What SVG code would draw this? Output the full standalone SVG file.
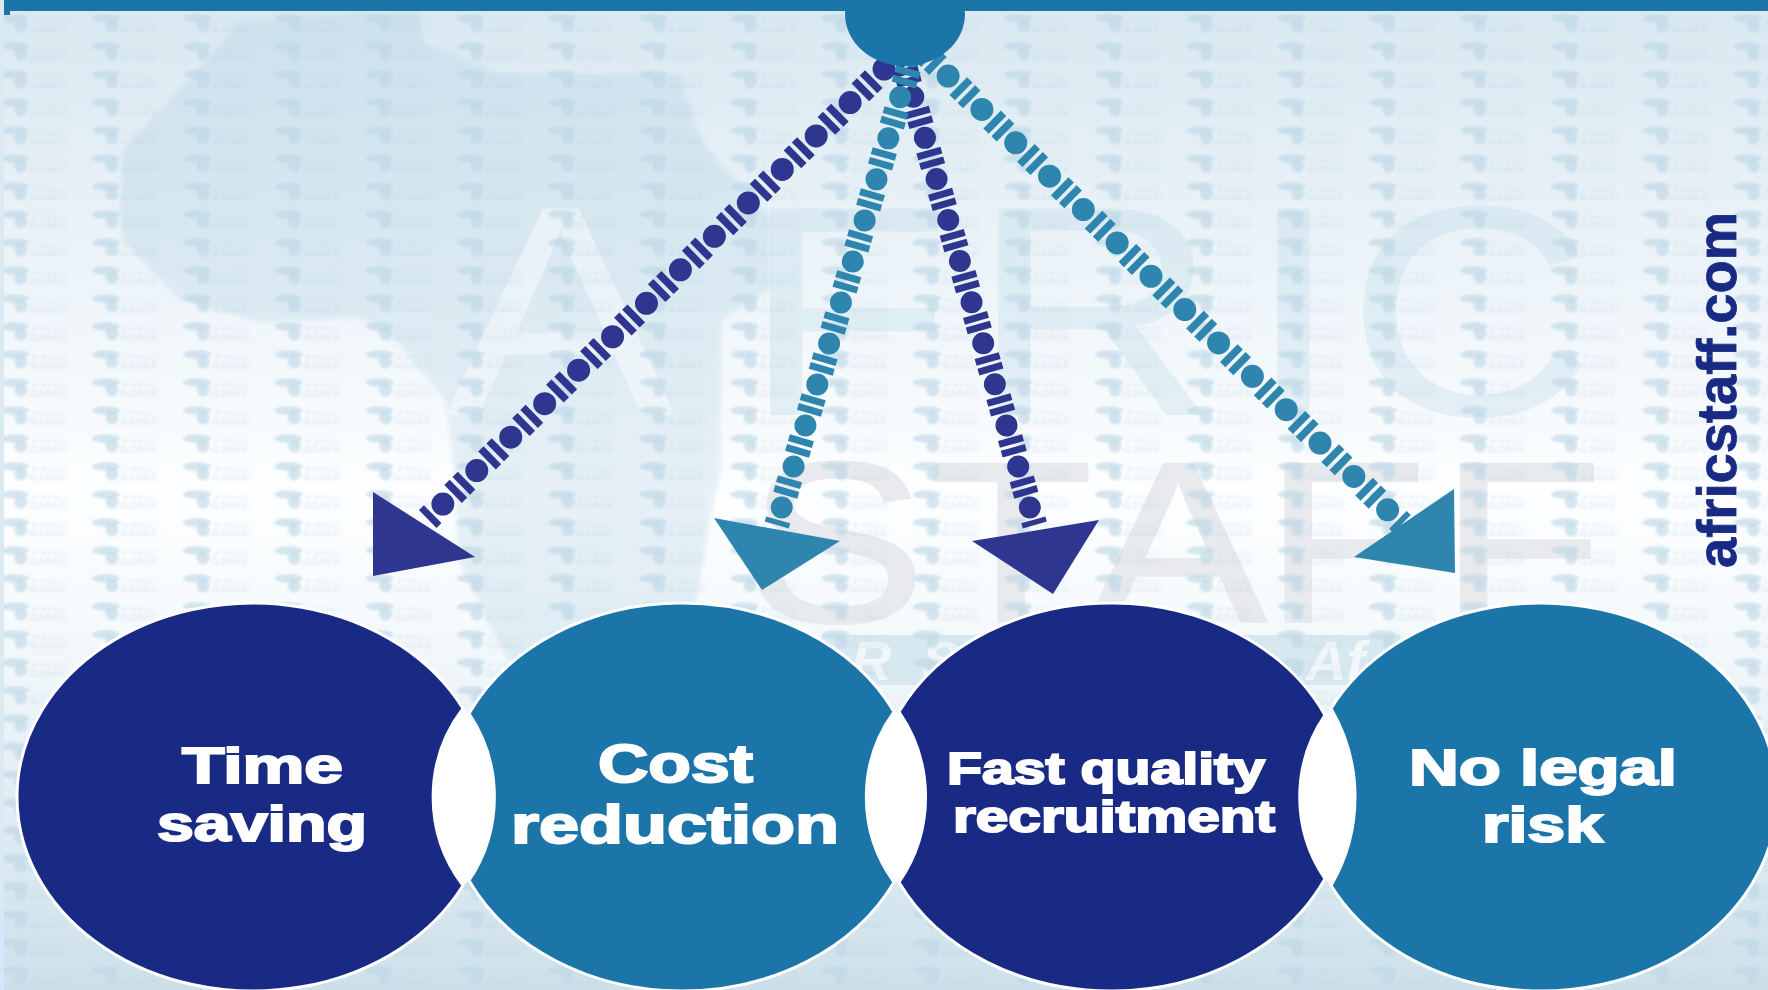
<svg xmlns="http://www.w3.org/2000/svg" width="1768" height="990" viewBox="0 0 1768 990">
<style>
.lbl{font-family:"Liberation Sans",Arial,sans-serif;font-weight:700;fill:#fff;stroke:#fff;stroke-width:2;text-anchor:start}
.navy{fill:#182a84;stroke:#fff;stroke-width:3}
.teal{fill:#1c75a8;stroke:#fff;stroke-width:3}
.big{font-family:"Liberation Sans",Arial,sans-serif}
.line{fill:none}
.n{stroke:#2e3690}
.t{stroke:#2e86ae}
.bar{stroke-width:25}
.dot{stroke-width:23;stroke-linecap:round}
.dotv{stroke-width:22;stroke-linecap:round}
.hn{fill:#2e3690}
.ht{fill:#2e86ae}
</style>
<defs>
<linearGradient id="bg" x1="0" y1="0" x2="0" y2="1">
<stop offset="0" stop-color="#d9e8f1"/>
<stop offset="0.3" stop-color="#eef5f9"/>
<stop offset="0.5" stop-color="#fdfeff"/>
<stop offset="0.62" stop-color="#f6fafc"/>
<stop offset="0.8" stop-color="#e3eef4"/>
<stop offset="1" stop-color="#cde0ea"/>
</linearGradient>
<filter id="soft" x="0" y="0" width="1" height="1"><feGaussianBlur stdDeviation="1"/></filter>
<filter id="softer" x="-5%" y="-5%" width="110%" height="110%"><feGaussianBlur stdDeviation="2"/></filter>
<pattern id="tile" width="91.2" height="28" patternUnits="userSpaceOnUse" patternTransform="translate(0.8 14)">
<ellipse cx="14" cy="4.5" rx="14" ry="4.2" fill="#bcd7e5" opacity=".62"/>
<circle cx="20" cy="12" r="6.5" fill="#bcd7e5" opacity=".62"/>
<text x="31" y="10" font-family="Liberation Sans,sans-serif" font-size="8" textLength="36" lengthAdjust="spacingAndGlyphs" fill="#b4cddb" opacity=".3">FRIC</text>
<text x="28" y="17" font-family="Liberation Sans,sans-serif" font-size="8" textLength="39" lengthAdjust="spacingAndGlyphs" fill="#a9c6d6" opacity=".35">STAFF</text>
<rect x="28" y="17" width="39" height="1" fill="#b4cddb" opacity=".3"/>
</pattern>
</defs>
<g id="background">
<rect width="1768" height="990" fill="url(#bg)"/>
<path filter="url(#softer)" d="M240 23L200 67L123 150L120 200L123 240L180 300L260 322L360 318L400 345L445 400L455 480L458 560L490 627L530 700L690 640L710 520L721 470L721 320L770 290L770 215L745 190L700 140L680 75L500 73L423 43L420 13L367 13L300 15Z" fill="#a9cce0" opacity=".26"/>
<rect x="822" y="635" width="578" height="50" fill="#d8e8f0"/>
<text class="big" transform="scale(1.15 1)" x="387 645 843.5 1083 1170.4" y="415" font-size="300" fill="#c9dfeb" fill-opacity=".42"><tspan fill="#fff" fill-opacity=".42">A</tspan>FRIC</text>
<text class="big" transform="scale(1.17 1)" x="638.5 794 930 1080 1230" y="622" font-size="230" fill="#e8eaed" stroke="#e8eaed" stroke-width="2">STAFF</text>
<text class="big" x="851 922" y="680" font-size="56" font-weight="700" font-style="italic" fill="#f1f7fa">RS</text>
<text class="big" x="1306" y="680" font-size="56" font-weight="700" font-style="italic" fill="#f1f7fa">Af</text>
<rect x="0" y="0" width="1768" height="990" fill="url(#tile)" filter="url(#soft)"/>
<rect x="0" y="0" width="4" height="905" fill="#dbe9f3"/>
<rect x="0" y="905" width="4" height="85" fill="#d5e7fa"/>
<rect x="4" y="0" width="1764" height="11" fill="#1c75a8"/>
<rect x="4" y="11" width="6" height="4" fill="#1c75a8"/>
</g>
<g id="connectors">
<path class="line n bar" stroke-dasharray="0 12.8 7 3.1 7 12.8" d="M901.6 55.7L1034.8 525"/>
<path class="line n dotv" stroke-dasharray="0 42.7" d="M901.6 55.7L1034.8 525"/>
<polygon class="hn" points="972,541 1099,520 1053,594"/>
<path class="line n bar" stroke-dasharray="0 14.35 7.5 3.96 7.5 14.35" d="M918 35.6L427.7 519"/>
<path class="line n dot" stroke-dasharray="0 47.66" d="M918 35.6L427.7 519"/>
<polygon class="hn" points="373,492 475,557 373,576"/>
<path class="line t bar" stroke-dasharray="0 14.35 7.5 3.8 7.5 14.35" d="M914.3 42.7L1402 524"/>
<path class="line t dot" stroke-dasharray="0 47.5" d="M914.3 42.7L1402 524"/>
<polygon class="ht" points="1454,489 1354,557 1455,573"/>
<path class="line t bar" stroke-dasharray="0 12.8 7 3.1 7 12.8" d="M912 56.3L776.7 525"/>
<path class="line t dotv" stroke-dasharray="0 42.7" d="M912 56.3L776.7 525"/>
<polygon class="ht" points="714,518 840,541 762,590"/>
</g>
<g id="hub"><ellipse cx="905" cy="14" rx="60" ry="52" fill="#1c75a8"/></g>
<g id="gaps" fill="#fff">
<path d="M463 708.5A146 146 0 0 0 463 885.5L469 880.5A150 150 0 0 0 469 713.5Z"/>
<path d="M894 711.8A145 145 0 0 0 894 882.2L899 882.2A150 150 0 0 0 899 711.8Z"/>
<path d="M1325 715.2A145 145 0 0 0 1325 878.8L1331 885.5A175 175 0 0 0 1331 708.5Z"/>
</g>
<g id="node-time-saving">
<path class="navy" d="M463 708.5A236 194 0 1 0 463 885.5A146 146 0 0 1 463 708.5Z"/>
<text class="lbl" x="182" y="783" font-size="50" textLength="161" lengthAdjust="spacingAndGlyphs">Time</text>
<text class="lbl" x="157" y="841" font-size="50" textLength="210" lengthAdjust="spacingAndGlyphs">saving</text>
</g>
<g id="node-cost-reduction">
<path class="teal" d="M469 713.5A236 194 0 0 1 894 711.8A145 145 0 0 0 894 882.2A236 194 0 0 1 469 880.5A150 150 0 0 0 469 713.5Z"/>
<text class="lbl" x="598" y="782" font-size="54" textLength="155" lengthAdjust="spacingAndGlyphs">Cost</text>
<text class="lbl" x="511" y="843" font-size="54" textLength="328" lengthAdjust="spacingAndGlyphs">reduction</text>
</g>
<g id="node-fast-quality-recruitment">
<path class="navy" d="M899 711.8A236 194 0 0 1 1325 715.2A145 145 0 0 0 1325 878.8A236 194 0 0 1 899 882.2A150 150 0 0 0 899 711.8Z"/>
<text class="lbl" x="947" y="784" font-size="45" textLength="318" lengthAdjust="spacingAndGlyphs">Fast quality</text>
<text class="lbl" x="953" y="832" font-size="45" textLength="322" lengthAdjust="spacingAndGlyphs">recruitment</text>
</g>
<g id="node-no-legal-risk">
<path class="teal" d="M1331 708.5A236 194 0 1 1 1331 885.5A175 175 0 0 0 1331 708.5Z"/>
<text class="lbl" x="1409" y="785" font-size="50" textLength="268" lengthAdjust="spacingAndGlyphs">No legal</text>
<text class="lbl" x="1482" y="842" font-size="50" textLength="121" lengthAdjust="spacingAndGlyphs">risk</text>
</g>
<g id="site-url">
<text transform="translate(1736 568) rotate(-90)" font-family="Liberation Sans,Arial,sans-serif" font-weight="700" font-size="55" fill="#182a84" stroke="#182a84" stroke-width="0.8" textLength="356" lengthAdjust="spacingAndGlyphs">africstaff.com</text>
</g>
</svg>
